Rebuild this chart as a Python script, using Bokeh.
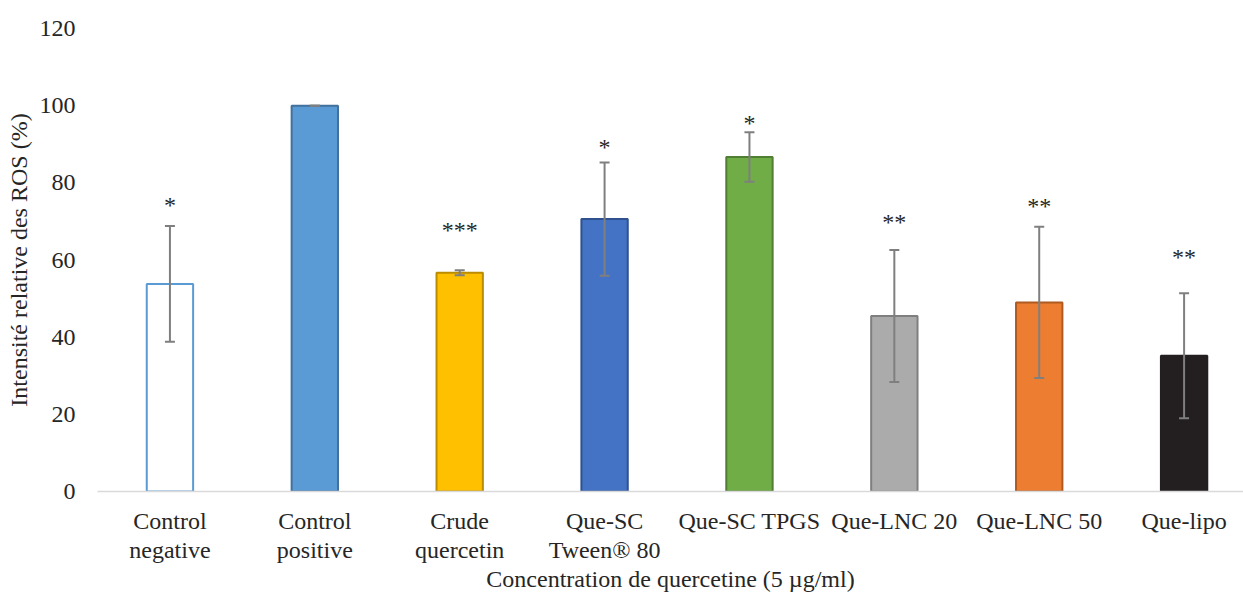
from bokeh.plotting import figure
from bokeh.models import ColumnDataSource, Range1d, FixedTicker, Whisker, TeeHead
from bokeh.core.properties import value
from bokeh.embed import file_html
from bokeh.resources import INLINE

categories = ["Control\nnegative", "Control\npositive", "Crude\nquercetin", "Que-SC\nTween\u00ae 80",
              "Que-SC TPGS", "Que-LNC 20", "Que-LNC 50", "Que-lipo"]
means = [53.8, 100.0, 56.7, 70.6, 86.7, 45.5, 49.0, 35.2]
errors = [15.0, 0.0, 0.65, 14.7, 6.4, 17.1, 19.6, 16.2]
stars = ["*", "", "***", "*", "*", "**", "**", "**"]
star_y = [74.3, 0, 67.8, 89.3, 95.5, 69.8, 74.1, 60.7]
fills = ["#FFFFFF", "#5B9BD5", "#FFC000", "#4472C4", "#70AD47", "#ABABAB", "#ED7D31", "#231F20"]
edges = ["#5B9BD5", "#41719C", "#BC8C00", "#2F528F", "#507E32", "#7F7F7F", "#AE5A21", "#231F20"]
y_ticks = [0, 20, 40, 60, 80, 100, 120]

FONT = "Liberation Serif"
TXT = "#262626"
FS = "24px"

xs = list(range(len(categories)))
src = ColumnDataSource(dict(
    x=xs, top=means, fill=fills, edge=edges,
    upper=[m + e for m, e in zip(means, errors)],
    lower=[m - e for m, e in zip(means, errors)],
))
star_src = ColumnDataSource(dict(x=[x for x, s in zip(xs, stars) if s],
                                 y=[y for y, s in zip(star_y, stars) if s],
                                 t=[s for s in stars if s]))

p = figure(width=1243, height=594, output_backend="svg", toolbar_location=None,
           x_range=Range1d(-0.5, 7.41), y_range=Range1d(0, 120),
           min_border_left=97, min_border_right=0, min_border_top=28, min_border_bottom=102)
p.outline_line_color = None
p.grid.grid_line_color = None

p.vbar(x="x", top="top", bottom=0, width=0.32, fill_color="fill", line_color="edge",
       line_width=2, source=src)

w = Whisker(source=src, base="x", upper="upper", lower="lower", line_color="#7F7F7F", line_width=2,
            upper_head=TeeHead(size=10, line_color="#7F7F7F", line_width=2),
            lower_head=TeeHead(size=10, line_color="#7F7F7F", line_width=2), level="overlay")
p.add_layout(w)

p.text(x="x", y="y", text="t", source=star_src, text_align="center", text_baseline="middle",
       text_font=value(FONT), text_font_size=FS, text_color=TXT)

# x axis
p.xaxis.ticker = FixedTicker(ticks=xs)
p.xaxis.major_label_overrides = {i: c for i, c in enumerate(categories)}
p.xaxis.axis_line_color = "#D9D9D9"
p.xaxis.axis_line_width = 1.5
p.xaxis.major_tick_line_color = None
p.xaxis.minor_tick_line_color = None
p.xaxis.major_label_text_font = FONT
p.xaxis.major_label_text_font_size = FS
p.xaxis.major_label_text_color = TXT
p.xaxis.major_label_text_line_height = 1.12
p.xaxis.major_label_standoff = 10
p.xaxis.axis_label = "Concentration de quercetine (5 \u00b5g/ml)"
p.xaxis.axis_label_text_font = FONT
p.xaxis.axis_label_text_font_size = FS
p.xaxis.axis_label_text_font_style = "normal"
p.xaxis.axis_label_text_color = TXT
p.xaxis.axis_label_standoff = 0

# y axis
p.yaxis.ticker = FixedTicker(ticks=y_ticks)
p.yaxis.axis_line_color = None
p.yaxis.major_tick_line_color = None
p.yaxis.minor_tick_line_color = None
p.yaxis.major_label_text_font = FONT
p.yaxis.major_label_text_font_size = FS
p.yaxis.major_label_text_color = TXT
p.yaxis.major_label_standoff = 16
p.yaxis.axis_label = "Intensit\u00e9 relative des ROS (%)"
p.yaxis.axis_label_text_font = FONT
p.yaxis.axis_label_text_font_size = FS
p.yaxis.axis_label_text_font_style = "normal"
p.yaxis.axis_label_text_color = TXT
p.yaxis.axis_label_standoff = 5

open("out.html", "w").write(file_html(p, INLINE))
